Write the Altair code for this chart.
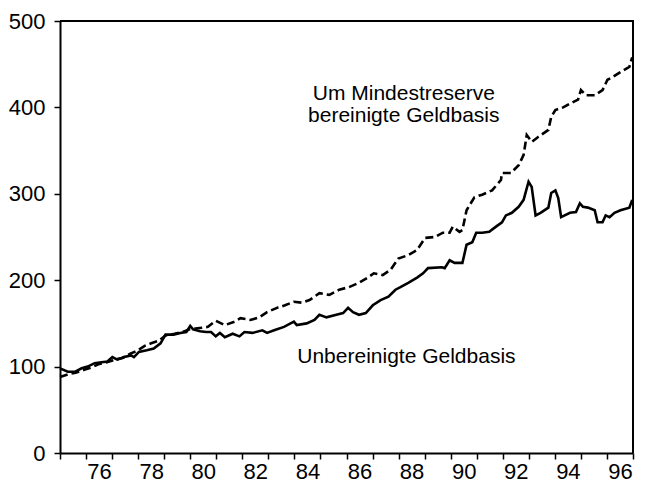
import altair as alt
import pandas as pd

# Unbereinigte Geldbasis (solid)
solid_year = [1975.00, 1975.30, 1975.57, 1975.83, 1976.06, 1976.33, 1976.59, 1976.82, 1977.01, 1977.20,
              1977.46, 1977.73, 1977.84, 1978.03, 1978.33, 1978.60, 1978.86, 1979.05, 1979.36, 1979.62,
              1979.85, 1980.00, 1980.11, 1980.38, 1980.61, 1980.80, 1980.98, 1981.14, 1981.33, 1981.63,
              1981.89, 1982.08, 1982.39, 1982.77, 1982.95, 1983.22, 1983.60, 1983.98, 1984.09, 1984.47,
              1984.77, 1984.96, 1985.23, 1985.61, 1985.87, 1986.06, 1986.25, 1986.48, 1986.74, 1987.01,
              1987.31, 1987.61, 1987.88, 1988.07, 1988.37, 1988.71, 1988.94, 1989.13, 1989.66, 1989.77,
              1989.96, 1990.15, 1990.45, 1990.61, 1990.83, 1990.98, 1991.21, 1991.48, 1991.74, 1991.97,
              1992.12, 1992.35, 1992.61, 1992.80, 1992.99, 1993.11, 1993.26, 1993.45, 1993.75, 1993.86,
              1994.02, 1994.13, 1994.24, 1994.58, 1994.81, 1994.96, 1995.08, 1995.27, 1995.53, 1995.64,
              1995.83, 1995.95, 1996.10, 1996.29, 1996.52, 1996.86, 1996.97]
solid_value = [98, 94, 94, 98, 100, 104, 105, 106, 111, 108,
               111, 113, 111, 117, 119, 121, 127, 137, 137, 139,
               140, 147, 143, 141, 140, 140, 135, 139, 134, 138,
               135, 140, 139, 142, 139, 142, 146, 152, 148, 150,
               154, 160, 157, 160, 162, 168, 163, 160, 162, 171,
               177, 181, 189, 192, 197, 203, 208, 214, 215, 214,
               223, 220, 220, 241, 244, 255, 255, 256, 262, 267,
               275, 278, 285, 293, 314, 308, 275, 278, 284, 301,
               304, 295, 273, 278, 279, 289, 285, 284, 281, 267,
               267, 275, 273, 278, 281, 284, 293]

# Um Mindestreserve bereinigte Geldbasis (dashed)
dash_year = [1975.00, 1975.30, 1975.60, 1975.90, 1976.20, 1976.50, 1976.80, 1977.10, 1977.40, 1977.70,
             1977.95, 1978.25, 1978.50, 1978.80, 1979.05, 1979.40, 1979.70, 1979.95, 1980.20, 1980.45,
             1980.68, 1980.98, 1981.33, 1981.70, 1981.93, 1982.31, 1982.65, 1982.95, 1983.33, 1983.64,
             1983.98, 1984.28, 1984.58, 1984.96, 1985.34, 1985.72, 1986.10, 1986.48, 1986.82, 1987.05,
             1987.39, 1987.69, 1987.99, 1988.37, 1988.71, 1989.02, 1989.39, 1989.70, 1989.96, 1990.08,
             1990.34, 1990.45, 1990.61, 1990.91, 1991.21, 1991.59, 1991.93, 1991.97, 1992.31, 1992.61,
             1992.80, 1992.92, 1993.11, 1993.37, 1993.75, 1993.86, 1994.02, 1994.32, 1994.62, 1994.89,
             1995.00, 1995.19, 1995.53, 1995.83, 1996.02, 1996.21, 1996.52, 1996.86, 1996.97]
dash_value = [88, 91, 93, 96, 99, 103, 105, 108, 110, 115,
              118, 124, 127, 130, 136, 138, 140, 143, 144, 145,
              146, 153, 148, 152, 156, 154, 157, 163, 168, 171,
              175, 174, 177, 185, 183, 189, 192, 197, 203, 208,
              206, 212, 225, 229, 235, 249, 250, 255, 255, 262,
              256, 258, 281, 296, 299, 304, 316, 324, 324, 333,
              345, 368, 360, 366, 374, 389, 397, 400, 405, 409,
              420, 414, 414, 420, 432, 435, 441, 447, 458]

# annotations (year, value, text)
note_year = [1988.2, 1988.2, 1988.3]
note_value = [409, 383, 104]
note_text = ["Um Mindestreserve", "bereinigte Geldbasis", "Unbereinigte Geldbasis"]

# axis ticks / labels (two-digit years)
x_ticks = list(range(75, 98))
x_labels = [76, 78, 80, 82, 84, 86, 88, 90, 92, 94, 96]
y_ticks = [0, 100, 200, 300, 400, 500]

FONT = "Liberation Sans"

solid_df = pd.DataFrame({"yy": [y - 1900 for y in solid_year], "value": solid_value})
dash_df = pd.DataFrame({"yy": [y - 1900 for y in dash_year], "value": dash_value})
note_df = pd.DataFrame({"yy": [y - 1900 for y in note_year], "value": note_value, "text": note_text})
frame_df = pd.DataFrame({"yy": [75, 97, 97], "value": [500, 500, 0], "order": [0, 1, 2]})

x_scale = alt.Scale(domain=[75, 97], nice=False, zero=False)
y_scale = alt.Scale(domain=[0, 500], nice=False)

tick_axis = alt.Axis(orient="bottom", values=x_ticks, title=None, grid=False, labels=False,
                     tickSize=6, tickColor="black", tickWidth=1.5,
                     domainColor="black", domainWidth=2)
label_axis = alt.Axis(orient="bottom", values=x_labels, title=None, grid=False, format="d",
                      ticks=False, tickSize=0, domain=False, labelOffset=13,
                      labelFont=FONT, labelFontSize=22, labelColor="black", labelPadding=8)
y_axis = alt.Axis(values=y_ticks, title=None, grid=False,
                  labelFont=FONT, labelFontSize=22, labelColor="black",
                  labelPadding=9, tickSize=6, tickColor="black", tickWidth=1.5,
                  domainColor="black", domainWidth=2)

frame = alt.Chart(frame_df).mark_line(color="black", strokeWidth=2).encode(
    x=alt.X("yy:Q", scale=x_scale, axis=tick_axis),
    y=alt.Y("value:Q", scale=y_scale, axis=y_axis),
    order="order:Q")
solid = alt.Chart(solid_df).mark_line(color="black", strokeWidth=2.6).encode(
    x=alt.X("yy:Q", axis=label_axis), y="value:Q")
dashed = alt.Chart(dash_df).mark_line(color="black", strokeWidth=2.6, strokeDash=[8, 4]).encode(
    x=alt.X("yy:Q", axis=None), y="value:Q")
notes = alt.Chart(note_df).mark_text(font=FONT, fontSize=21, color="black", align="center",
                                     baseline="alphabetic").encode(
    x=alt.X("yy:Q", axis=None), y="value:Q", text="text:N")

chart = (alt.layer(frame, solid, dashed, notes)
         .resolve_axis(x="independent")
         .properties(width=630, height=476, background="white",
                     autosize=alt.AutoSizeParams(type="fit", contains="padding"),
                     padding={"left": 0, "top": 2, "right": 0, "bottom": 2}))

chart.save("out.html", embed_options={"renderer": "svg", "actions": False})
